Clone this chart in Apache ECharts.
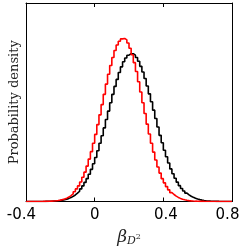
<!DOCTYPE html>
<html>
<head>
<meta charset="utf-8">
<script src="https://cdn.jsdelivr.net/npm/echarts@6/dist/echarts.min.js"></script>
<style>
html,body{margin:0;padding:0;background:#fff;}
#c{width:245px;height:252px;}
</style>
</head>
<body>
<div id="c"></div>
<script>
// Histogram bins: 96 bins of width 0.0125 from -0.4 to 0.8
var binStart = -0.4;
var binWidth = 0.0125;
var xTickLabels = ['-0.4', '0', '0.4', '0.8'];

// Probability density per bin (black histogram)
var blackDensity = [
  0, 0.0001, 0.0002, 0.0003, 0.0005, 0.0007, 0.001, 0.0015, 0.002, 0.003,
  0.004, 0.006, 0.009, 0.012, 0.016, 0.022, 0.030, 0.040, 0.051, 0.067,
  0.087, 0.11, 0.14, 0.178, 0.22, 0.27, 0.335, 0.41, 0.49, 0.585,
  0.69, 0.81, 0.945, 1.09, 1.25, 1.41, 1.58, 1.76, 1.94, 2.12,
  2.30, 2.47, 2.62, 2.77, 2.89, 3.00, 3.08, 3.14, 3.17, 3.17,
  3.14, 3.09, 3.01, 2.90, 2.78, 2.64, 2.48, 2.31, 2.14, 1.96,
  1.78, 1.60, 1.42, 1.26, 1.10, 0.96, 0.825, 0.70, 0.595, 0.50,
  0.415, 0.34, 0.28, 0.225, 0.18, 0.143, 0.113, 0.089, 0.069, 0.053,
  0.040, 0.030, 0.022, 0.016, 0.012, 0.008, 0.006, 0.004, 0.003, 0.002,
  0.0015, 0.001, 0.0007, 0.0005, 0.0003, 0.0002
];

// Probability density per bin (red histogram)
var redDensity = [
  0.0001, 0.0002, 0.0003, 0.0005, 0.0007, 0.001, 0.0015, 0.002, 0.003, 0.004,
  0.006, 0.009, 0.012, 0.016, 0.022, 0.030, 0.040, 0.053, 0.072, 0.095,
  0.125, 0.165, 0.21, 0.27, 0.335, 0.42, 0.52, 0.63, 0.76, 0.91,
  1.07, 1.25, 1.44, 1.65, 1.86, 2.08, 2.30, 2.52, 2.73, 2.92,
  3.09, 3.24, 3.36, 3.44, 3.49, 3.50, 3.47, 3.40, 3.29, 3.15,
  2.98, 2.79, 2.57, 2.35, 2.12, 1.89, 1.66, 1.45, 1.25, 1.06,
  0.89, 0.74, 0.61, 0.49, 0.40, 0.32, 0.25, 0.19, 0.15, 0.115,
  0.088, 0.067, 0.050, 0.037, 0.027, 0.019, 0.014, 0.010, 0.007, 0.005,
  0.0035, 0.0025, 0.0017, 0.0012, 0.0008, 0.0005, 0.0003, 0.0002, 0.0001, 0,
  0, 0, 0, 0, 0, 0
];

function stepData(vals) {
  var out = [];
  for (var i = 0; i < vals.length; i++) {
    out.push([binStart + i * binWidth, vals[i]]);
  }
  out.push([binStart + vals.length * binWidth, vals[vals.length - 1]]);
  return out;
}

var chart = echarts.init(document.getElementById('c'), null, {renderer: 'canvas'});
var axisLineStyle = {color: '#000', width: 1};
chart.setOption({
  animation: false,
  backgroundColor: '#fff',
  grid: {left: 20, right: 13, top: 3, bottom: 38, containLabel: false},
  xAxis: [{
    type: 'value', min: -0.4, max: 0.8, interval: 0.4, position: 'bottom',
    axisLine: {show: true, onZero: false, lineStyle: axisLineStyle},
    axisTick: {show: true, inside: true, length: 4, lineStyle: {color: '#000', width: 1}},
    splitLine: {show: false},
    axisLabel: {
      show: true, margin: 6, color: '#000', fontFamily: 'DejaVu Sans', fontSize: 15,
      formatter: function (v) {
        var idx = Math.round((v + 0.4) / 0.4);
        var t = xTickLabels[idx];
        if (idx === 0 || idx === 3) return '{l|' + t + '}';
        if (idx === 2) return '{r|' + t + '}';
        return t;
      },
      rich: {
        l: {fontFamily: 'DejaVu Sans', fontSize: 15, color: '#000', padding: [0, 9, 0, 0]},
        r: {fontFamily: 'DejaVu Sans', fontSize: 15, color: '#000', padding: [0, 0, 0, 5]}
      }
    },
    name: '{b|β}{d|D}{s|2}',
    nameLocation: 'middle',
    nameGap: 25,
    nameTextStyle: {
      rich: {
        b: {fontFamily: 'DejaVu Serif', fontStyle: 'italic', fontSize: 17, color: '#222', lineHeight: 22, verticalAlign: 'middle'},
        d: {fontFamily: 'DejaVu Serif', fontStyle: 'italic', fontSize: 11, color: '#222', padding: [8, 0, 0, 0]},
        s: {fontFamily: 'DejaVu Serif', fontSize: 8, color: '#222', padding: [0, 0, 2, 0]}
      }
    }
  }, {
    type: 'value', min: -0.4, max: 0.8, interval: 0.4, position: 'top',
    axisLine: {show: true, onZero: false, lineStyle: axisLineStyle},
    axisTick: {show: true, inside: true, length: 4, lineStyle: {color: '#000', width: 1}},
    splitLine: {show: false},
    axisLabel: {show: false}
  }],
  yAxis: [{
    type: 'value', min: 0, max: 4.26, position: 'left',
    axisLine: {show: true, onZero: false, lineStyle: axisLineStyle},
    axisTick: {show: false}, axisLabel: {show: false}, splitLine: {show: false},
    name: 'Probability density', nameLocation: 'middle', nameGap: 5,
    nameTextStyle: {fontFamily: 'DejaVu Serif', fontSize: 13, color: '#222'}
  }, {
    type: 'value', min: 0, max: 4.26, position: 'right',
    axisLine: {show: true, onZero: false, lineStyle: axisLineStyle},
    axisTick: {show: false}, axisLabel: {show: false}, splitLine: {show: false}
  }],
  series: [{
    type: 'line', step: 'end', showSymbol: false, symbol: 'none',
    data: stepData(blackDensity),
    lineStyle: {color: '#000', width: 1.6}, z: 2
  }, {
    type: 'line', step: 'end', showSymbol: false, symbol: 'none',
    data: stepData(redDensity),
    lineStyle: {color: '#ff0000', width: 1.6}, z: 3
  }]
});
</script>
</body>
</html>
